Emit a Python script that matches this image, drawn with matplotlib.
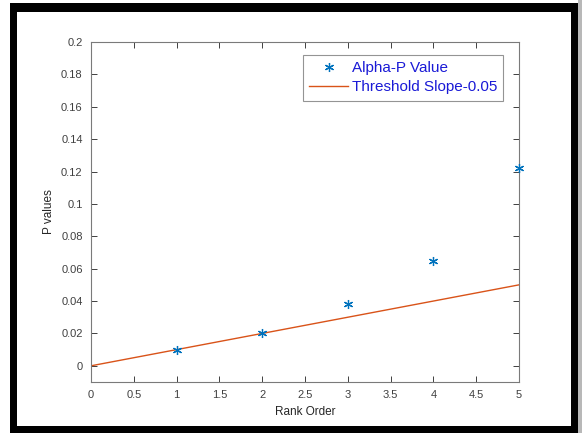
import matplotlib
matplotlib.use("Agg")
import matplotlib.pyplot as plt
from matplotlib.patches import Rectangle
import numpy as np

plt.rcParams['font.family'] = ['Liberation Sans', 'DejaVu Sans']

rank = [1, 2, 3, 4, 5]
p_values = [0.010, 0.020, 0.038, 0.065, 0.122]
thr_x = [0, 5]
thr_y = [0.0, 0.05]
xticks = [0, 0.5, 1, 1.5, 2, 2.5, 3, 3.5, 4, 4.5, 5]
xticklabels = ['0', '0.5', '1', '1.5', '2', '2.5', '3', '3.5', '4', '4.5', '5']
yticks = [0, 0.02, 0.04, 0.06, 0.08, 0.1, 0.12, 0.14, 0.16, 0.18, 0.2]
yticklabels = ['0', '0.02', '0.04', '0.06', '0.08', '0.1', '0.12', '0.14', '0.16', '0.18', '0.2']

W, H = 582, 433
fig = plt.figure(figsize=(W / 100, H / 100), dpi=100)
fig.patch.set_facecolor('white')

# outer black frame
fig.patches.append(Rectangle((10 / W, 0), (578 - 10) / W, (433 - 3) / H,
                             transform=fig.transFigure, facecolor='black',
                             edgecolor='none', zorder=-10))
fig.patches.append(Rectangle((578 / W, 0), 4 / W, 1,
                             transform=fig.transFigure, facecolor='#b8b8b8',
                             edgecolor='none', zorder=-10))
fig.patches.append(Rectangle((17 / W, (433 - 426) / H), (571 - 17) / W, (426 - 12) / H,
                             transform=fig.transFigure, facecolor='white',
                             edgecolor='none', zorder=-9))

ax = fig.add_axes([91 / W, 1 - 382 / H, (519 - 91) / W, (382 - 42) / H])
ax.plot(rank, p_values, linestyle='none', marker=(6, 2, 0), markersize=6.5,
        markeredgewidth=0.9, color='#0072BD', label='Alpha-P Value', clip_on=False, zorder=3)
ax.plot(thr_x, thr_y, color='#D95319', linewidth=1.0, label='Threshold Slope-0.05')

ax.set_xlim(0, 5)
ax.set_ylim(-0.01, 0.2)
ax.set_xticks(xticks)
ax.set_xticklabels(xticklabels)
ax.set_yticks(yticks)
ax.set_yticklabels(yticklabels)
ax.tick_params(direction='in', length=4, width=0.7, top=True, right=True,
               labelsize=8, colors='#404040', labelcolor='#404040', pad=6)
for s in ax.spines.values():
    s.set_color('#7a7a7a')
    s.set_linewidth(0.8)
ax.set_xlabel('Rank Order', fontsize=8.5, color='#262626', labelpad=4)
ax.set_ylabel('P values', fontsize=8.5, color='#262626', labelpad=4)

leg = ax.legend(loc='upper right', bbox_to_anchor=((503 - 91) / (519 - 91), (382 - 55) / (382 - 42)),
                fontsize=11, frameon=True, fancybox=False, borderpad=0.4,
                handlelength=2.6, handletextpad=0.2, labelspacing=0.35, borderaxespad=0)
leg.get_frame().set_edgecolor('#7a7a7a')
leg.get_frame().set_linewidth(0.8)
for t in leg.get_texts():
    t.set_color('#1a1ad6')

fig.savefig('out.png', dpi=100)
